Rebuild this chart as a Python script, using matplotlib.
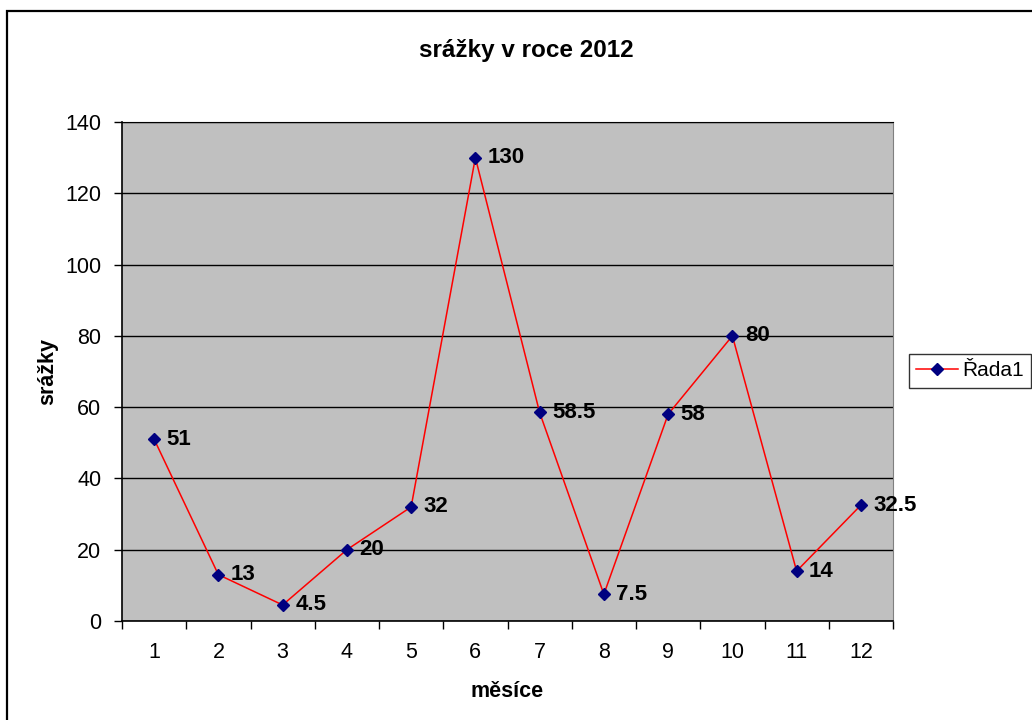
import numpy as np
import matplotlib.pyplot as plt
from matplotlib.patches import Rectangle

plt.rcParams["font.family"] = ["Liberation Sans", "DejaVu Sans"]

# data
months = [1, 2, 3, 4, 5, 6, 7, 8, 9, 10, 11, 12]
rainfall = [51, 13, 4.5, 20, 32, 130, 58.5, 7.5, 58, 80, 14, 32.5]
point_labels = ["51", "13", "4.5", "20", "32", "130", "58.5", "7.5", "58", "80", "14", "32.5"]
y_ticks = [0, 20, 40, 60, 80, 100, 120, 140]

W, H = 1032, 720
fig = plt.figure(figsize=(W / 100, H / 100), dpi=100)

# chart area border (runs off the right and bottom edge)
fig.patches.append(Rectangle((7 / W, -0.1), 1.2, (H - 11) / H + 0.1,
                             transform=fig.transFigure, fill=False,
                             edgecolor="black", linewidth=1.6))

ax = fig.add_axes([122 / W, (H - 621) / H, 771 / W, 499 / H])
ax.set_facecolor("#C0C0C0")

ax.plot(months, rainfall, color="red", linewidth=1.1, marker="D",
        markersize=6, markerfacecolor="#000080", markeredgecolor="#000080",
        label="Řada1", zorder=3)

for x, y, t in zip(months, rainfall, point_labels):
    ax.annotate(t, (x, y), xytext=(9, 0), textcoords="offset points",
                ha="left", va="center", fontsize=16, fontweight="bold")

ax.set_xlim(0.5, 12.5)
ax.set_ylim(0, 140)
ax.set_yticks(y_ticks)
ax.yaxis.grid(True, color="black", linewidth=1)
ax.set_axisbelow(True)

ax.set_xticks(np.arange(0.5, 13, 1))
ax.set_xticklabels([])
ax.set_xticks(months, minor=True)
ax.set_xticklabels([str(m) for m in months], minor=True)
ax.tick_params(axis="x", which="major", direction="out", length=6, width=1)
ax.tick_params(axis="x", which="minor", length=0, pad=15, labelsize=15.5)
ax.tick_params(axis="y", direction="out", length=6, width=1, labelsize=15.5, pad=9)

for s in ["left", "bottom"]:
    ax.spines[s].set_color("black")
    ax.spines[s].set_linewidth(1.2)
ax.spines["top"].set_color("black")
ax.spines["right"].set_color("#808080")

ax.set_xlabel("měsíce", fontsize=15.5, fontweight="bold", labelpad=13)
ax.set_ylabel("srážky", fontsize=15.5, fontweight="bold", labelpad=5)
fig.text(526 / W, (H - 50) / H, "srážky v roce 2012", ha="center", va="center",
         fontsize=17.5, fontweight="bold")

leg = fig.legend(loc="center left", bbox_to_anchor=(909 / W, (H - 371) / H),
                 fontsize=15, frameon=True, fancybox=False, handlelength=2.0,
                 borderpad=0.35, handletextpad=0.2, borderaxespad=0)
leg.get_frame().set_edgecolor("black")
leg.get_frame().set_linewidth(1)

fig.savefig("out.png", dpi=100)
